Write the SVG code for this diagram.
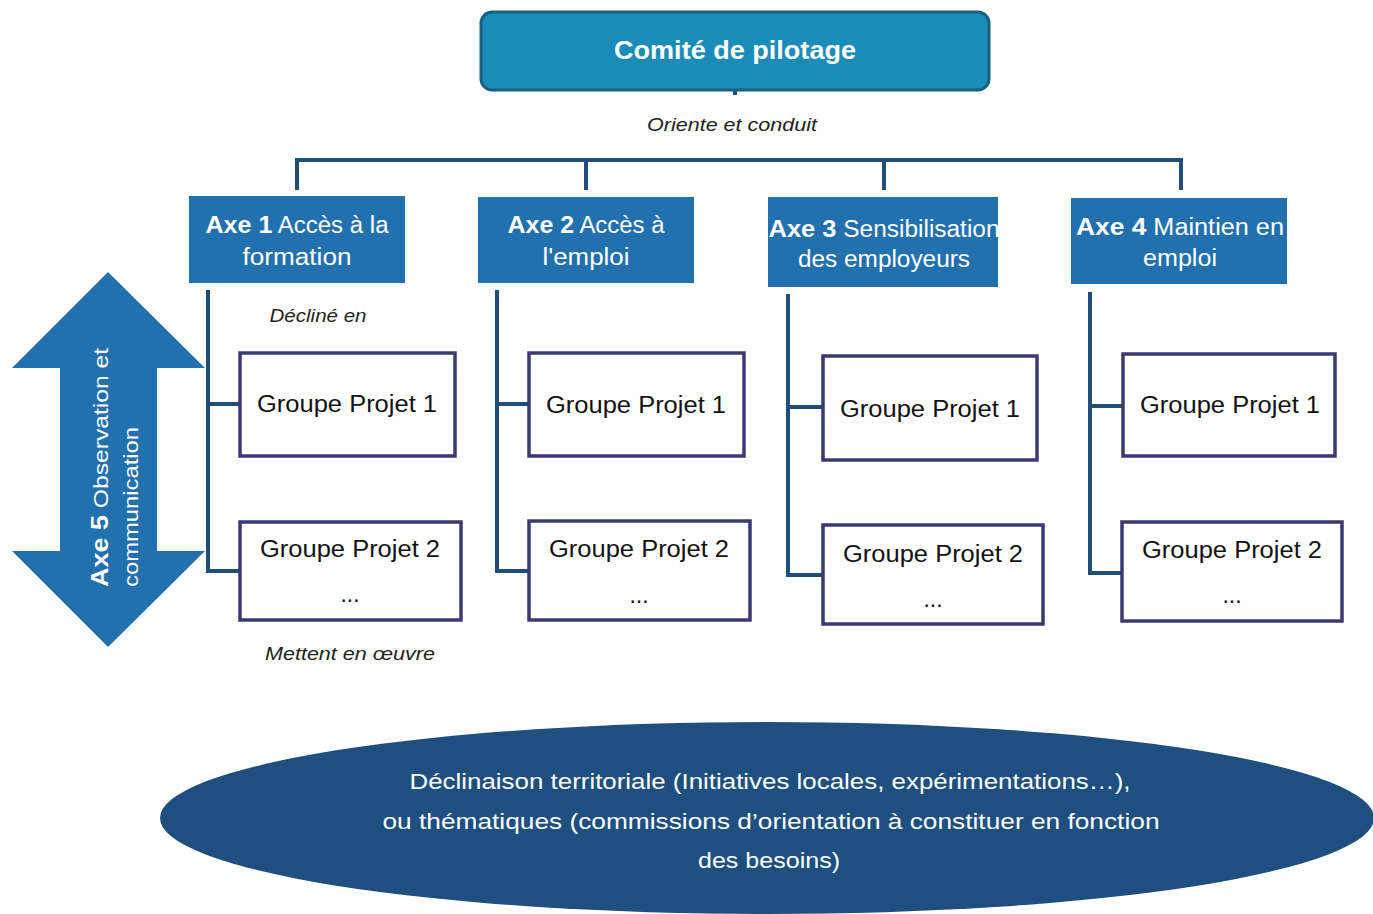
<svg xmlns="http://www.w3.org/2000/svg" width="1373" height="914" viewBox="0 0 1373 914">
<style>
.conn{stroke:#1f4e79;stroke-width:4;fill:none}
.axe{fill:#2370ae}
.axt{font-family:"Liberation Sans",Arial,sans-serif;font-size:23px;fill:#fff;text-anchor:middle}
.b{font-weight:bold;font-size:24px}
.gp{fill:#fff;stroke:#3b3872;stroke-width:3.5}
.gpt{font-family:"Liberation Sans",Arial,sans-serif;font-size:23px;fill:#111;text-anchor:middle}
.it{font-family:"Liberation Sans",Arial,sans-serif;font-style:italic;font-size:19px;fill:#222;text-anchor:middle}
.ell{font-family:"Liberation Sans",Arial,sans-serif;font-size:22px;fill:#fff;text-anchor:middle}
</style>
<rect width="1373" height="914" fill="#fff"/>
<g id="connectors">
<line class="conn" x1="735" y1="90" x2="735" y2="95"/>
<line class="conn" x1="295" y1="160" x2="1183" y2="160"/>
<line class="conn" x1="297" y1="158" x2="297" y2="190"/>
<line class="conn" x1="586" y1="158" x2="586" y2="190"/>
<line class="conn" x1="884" y1="158" x2="884" y2="190"/>
<line class="conn" x1="1181" y1="158" x2="1181" y2="190"/>
<path class="conn" d="M208 290 V571 H240 M208 404 H240"/>
<path class="conn" d="M497 290 V571 H529 M497 404 H529"/>
<path class="conn" d="M788 294 V575 H823 M788 407 H823"/>
<path class="conn" d="M1090 292 V573 H1122 M1090 406 H1123"/>
</g>
<g id="comite">
<rect x="481" y="12" width="508" height="78" rx="11" fill="#1b8cb7" stroke="#17607f" stroke-width="3"/>
<text x="735" y="59" font-family="Liberation Sans,Arial,sans-serif" font-weight="bold" font-size="26" fill="#fff" text-anchor="middle" textLength="242" lengthAdjust="spacingAndGlyphs">Comité de pilotage</text>
</g>
<text class="it" x="732" y="131" textLength="170" lengthAdjust="spacingAndGlyphs">Oriente et conduit</text>
<g id="axe1">
<rect class="axe" x="189" y="196" width="216" height="87"/>
<text class="axt" x="297" y="233" textLength="183" lengthAdjust="spacingAndGlyphs"><tspan class="b">Axe 1</tspan> Accès à la</text>
<text class="axt" x="297" y="265" textLength="109" lengthAdjust="spacingAndGlyphs">formation</text>
</g>
<g id="axe2">
<rect class="axe" x="478" y="197" width="216" height="86"/>
<text class="axt" x="586" y="233" textLength="157" lengthAdjust="spacingAndGlyphs"><tspan class="b">Axe 2</tspan> Accès à</text>
<text class="axt" x="586" y="265" textLength="87" lengthAdjust="spacingAndGlyphs">l'emploi</text>
</g>
<g id="axe3">
<rect class="axe" x="768" y="197" width="230" height="90"/>
<text class="axt" x="884" y="237" textLength="231" lengthAdjust="spacingAndGlyphs"><tspan class="b">Axe 3</tspan> Sensibilisation</text>
<text class="axt" x="884" y="267" textLength="172" lengthAdjust="spacingAndGlyphs">des employeurs</text>
</g>
<g id="axe4">
<rect class="axe" x="1071" y="198" width="216" height="86"/>
<text class="axt" x="1180" y="235" textLength="208" lengthAdjust="spacingAndGlyphs"><tspan class="b">Axe 4</tspan> Maintien en</text>
<text class="axt" x="1180" y="266" textLength="74" lengthAdjust="spacingAndGlyphs">emploi</text>
</g>
<text class="it" x="318" y="322" textLength="97" lengthAdjust="spacingAndGlyphs">Décliné en</text>
<text class="it" x="350" y="660" textLength="170" lengthAdjust="spacingAndGlyphs">Mettent en œuvre</text>
<g id="a1gp1"><rect class="gp" x="240" y="353" width="215" height="103"/><text class="gpt" x="347" y="412" textLength="180" lengthAdjust="spacingAndGlyphs">Groupe Projet 1</text></g>
<g id="a1gp2"><rect class="gp" x="240" y="522" width="221" height="98"/><text class="gpt" x="350" y="557" textLength="180" lengthAdjust="spacingAndGlyphs">Groupe Projet 2</text><text class="gpt" x="350" y="602">...</text></g>
<g id="a2gp1"><rect class="gp" x="529" y="353" width="215" height="103"/><text class="gpt" x="636" y="413" textLength="180" lengthAdjust="spacingAndGlyphs">Groupe Projet 1</text></g>
<g id="a2gp2"><rect class="gp" x="529" y="521" width="221" height="99"/><text class="gpt" x="639" y="557" textLength="180" lengthAdjust="spacingAndGlyphs">Groupe Projet 2</text><text class="gpt" x="639" y="603">...</text></g>
<g id="a3gp1"><rect class="gp" x="823" y="356" width="214" height="104"/><text class="gpt" x="930" y="417" textLength="180" lengthAdjust="spacingAndGlyphs">Groupe Projet 1</text></g>
<g id="a3gp2"><rect class="gp" x="823" y="525" width="220" height="99"/><text class="gpt" x="933" y="562" textLength="180" lengthAdjust="spacingAndGlyphs">Groupe Projet 2</text><text class="gpt" x="933" y="607">...</text></g>
<g id="a4gp1"><rect class="gp" x="1123" y="354" width="212" height="102"/><text class="gpt" x="1230" y="413" textLength="180" lengthAdjust="spacingAndGlyphs">Groupe Projet 1</text></g>
<g id="a4gp2"><rect class="gp" x="1122" y="522" width="220" height="99"/><text class="gpt" x="1232" y="558" textLength="180" lengthAdjust="spacingAndGlyphs">Groupe Projet 2</text><text class="gpt" x="1232" y="603">...</text></g>
<g id="axe5">
<polygon points="108,272 205,368 157,368 157,551 205,551 108,647 12,551 60,551 60,368 12,368" fill="#2370ae"/>
<text transform="translate(108,587) rotate(-90)" font-family="Liberation Sans,Arial,sans-serif" font-size="21" fill="#fff" textLength="239" lengthAdjust="spacingAndGlyphs"><tspan font-weight="bold" font-size="23">Axe 5</tspan> Observation et</text>
<text transform="translate(138,587) rotate(-90)" font-family="Liberation Sans,Arial,sans-serif" font-size="21" fill="#fff" textLength="160" lengthAdjust="spacingAndGlyphs">communication</text>
</g>
<g id="territorial">
<ellipse cx="767" cy="818" rx="607" ry="96" fill="#1e4f7e"/>
<text class="ell" x="770" y="789" textLength="721" lengthAdjust="spacingAndGlyphs">Déclinaison territoriale (Initiatives locales, expérimentations…),</text>
<text class="ell" x="771" y="829" textLength="777" lengthAdjust="spacingAndGlyphs">ou thématiques (commissions d’orientation à constituer en fonction</text>
<text class="ell" x="769" y="868" textLength="142" lengthAdjust="spacingAndGlyphs">des besoins)</text>
</g>
</svg>
